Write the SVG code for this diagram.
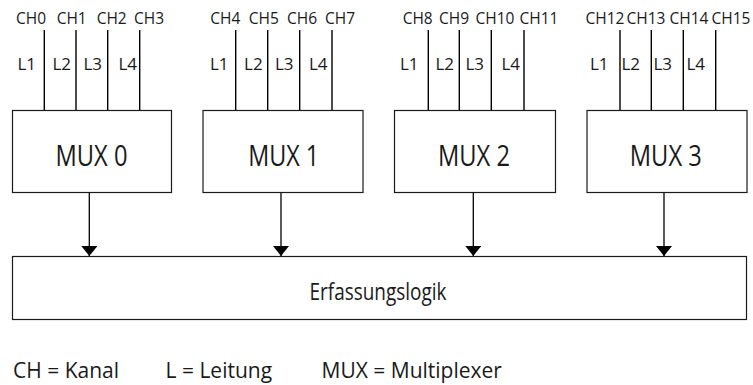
<svg xmlns="http://www.w3.org/2000/svg" width="753" height="385" viewBox="0 0 753 385">
<style>
text{font-family:"Open Sans","Noto Sans","Liberation Sans",sans-serif;fill:#1a1a1a}
.ch{font-size:15.5px;text-anchor:middle}
.l{font-size:17px;text-anchor:end}
.mux{font-size:30px;text-anchor:middle}
.box{fill:#fff;stroke:#1a1a1a;stroke-width:1.2}
.in{stroke:#000;stroke-width:1.4}
.arr{stroke:#000;stroke-width:1.3;fill:none}
.leg{font-size:21px}
</style>
<defs>
<marker id="ah" viewBox="0 0 10 16" refX="10" refY="8" markerUnits="userSpaceOnUse" markerWidth="10" markerHeight="16" orient="auto">
<path d="M0,0 L10,8 L0,16 Z" fill="#000"/>
</marker>
</defs>
<g id="mux0">
<rect class="box" x="12.5" y="110.5" width="159" height="82"/>
<line class="in" x1="44.3" y1="30" x2="44.3" y2="110"/>
<line class="in" x1="76" y1="30" x2="76" y2="110"/>
<line class="in" x1="107.7" y1="30" x2="107.7" y2="110"/>
<line class="in" x1="139.7" y1="30" x2="139.7" y2="110"/>
<text class="ch" x="31" y="24">CH0</text>
<text class="ch" x="71.7" y="24">CH1</text>
<text class="ch" x="111.7" y="24">CH2</text>
<text class="ch" x="149" y="24">CH3</text>
<text class="l" x="36" y="70">L1</text>
<text class="l" x="71" y="70">L2</text>
<text class="l" x="102" y="70">L3</text>
<text class="l" x="137" y="70">L4</text>
<text class="mux" x="91.5" y="166" textLength="72" lengthAdjust="spacingAndGlyphs">MUX 0</text>
</g>
<g id="mux1">
<rect class="box" x="203" y="110.5" width="160" height="82"/>
<line class="in" x1="235.7" y1="30" x2="235.7" y2="110"/>
<line class="in" x1="267.7" y1="30" x2="267.7" y2="110"/>
<line class="in" x1="299.7" y1="30" x2="299.7" y2="110"/>
<line class="in" x1="332" y1="30" x2="332" y2="110"/>
<text class="ch" x="225.3" y="24">CH4</text>
<text class="ch" x="263.8" y="24">CH5</text>
<text class="ch" x="302" y="24">CH6</text>
<text class="ch" x="340" y="24">CH7</text>
<text class="l" x="228.5" y="70">L1</text>
<text class="l" x="262.7" y="70">L2</text>
<text class="l" x="293.5" y="70">L3</text>
<text class="l" x="327.5" y="70">L4</text>
<text class="mux" x="283.7" y="166" textLength="71" lengthAdjust="spacingAndGlyphs">MUX 1</text>
</g>
<g id="mux2">
<rect class="box" x="394.5" y="110.5" width="161" height="82"/>
<line class="in" x1="428.3" y1="30" x2="428.3" y2="110"/>
<line class="in" x1="459.3" y1="30" x2="459.3" y2="110"/>
<line class="in" x1="491.3" y1="30" x2="491.3" y2="110"/>
<line class="in" x1="524" y1="30" x2="524" y2="110"/>
<text class="ch" x="417.7" y="24">CH8</text>
<text class="ch" x="454" y="24">CH9</text>
<text class="ch" x="495" y="24">CH10</text>
<text class="ch" x="539" y="24">CH11</text>
<text class="l" x="418.5" y="70">L1</text>
<text class="l" x="454" y="70">L2</text>
<text class="l" x="484" y="70">L3</text>
<text class="l" x="520" y="70">L4</text>
<text class="mux" x="474" y="166" textLength="72" lengthAdjust="spacingAndGlyphs">MUX 2</text>
</g>
<g id="mux3">
<rect class="box" x="587" y="110.5" width="160" height="82"/>
<line class="in" x1="620" y1="30" x2="620" y2="110"/>
<line class="in" x1="651.3" y1="30" x2="651.3" y2="110"/>
<line class="in" x1="683.3" y1="30" x2="683.3" y2="110"/>
<line class="in" x1="715.7" y1="30" x2="715.7" y2="110"/>
<text class="ch" x="605" y="24">CH12</text>
<text class="ch" x="646" y="24">CH13</text>
<text class="ch" x="689" y="24">CH14</text>
<text class="ch" x="731" y="24">CH15</text>
<text class="l" x="608.5" y="70">L1</text>
<text class="l" x="640" y="70">L2</text>
<text class="l" x="672" y="70">L3</text>
<text class="l" x="705" y="70">L4</text>
<text class="mux" x="665.8" y="166" textLength="72" lengthAdjust="spacingAndGlyphs">MUX 3</text>
</g>
<g id="logic">
<rect class="box" x="12.5" y="256.5" width="734" height="63"/>
<text x="378" y="300" style="font-size:24px;text-anchor:middle" textLength="137" lengthAdjust="spacingAndGlyphs">Erfassungslogik</text>
</g>
<g id="connectors">
<line class="arr" x1="89.3" y1="193" x2="89.3" y2="256" marker-end="url(#ah)"/>
<line class="arr" x1="281" y1="193" x2="281" y2="256" marker-end="url(#ah)"/>
<line class="arr" x1="473.3" y1="193" x2="473.3" y2="256" marker-end="url(#ah)"/>
<line class="arr" x1="664" y1="193" x2="664" y2="256" marker-end="url(#ah)"/>
</g>
<g id="legend">
<text class="leg" x="13" y="378">CH = Kanal</text>
<text class="leg" x="165.5" y="378">L = Leitung</text>
<text class="leg" x="321.5" y="378">MUX = Multiplexer</text>
</g>
</svg>
